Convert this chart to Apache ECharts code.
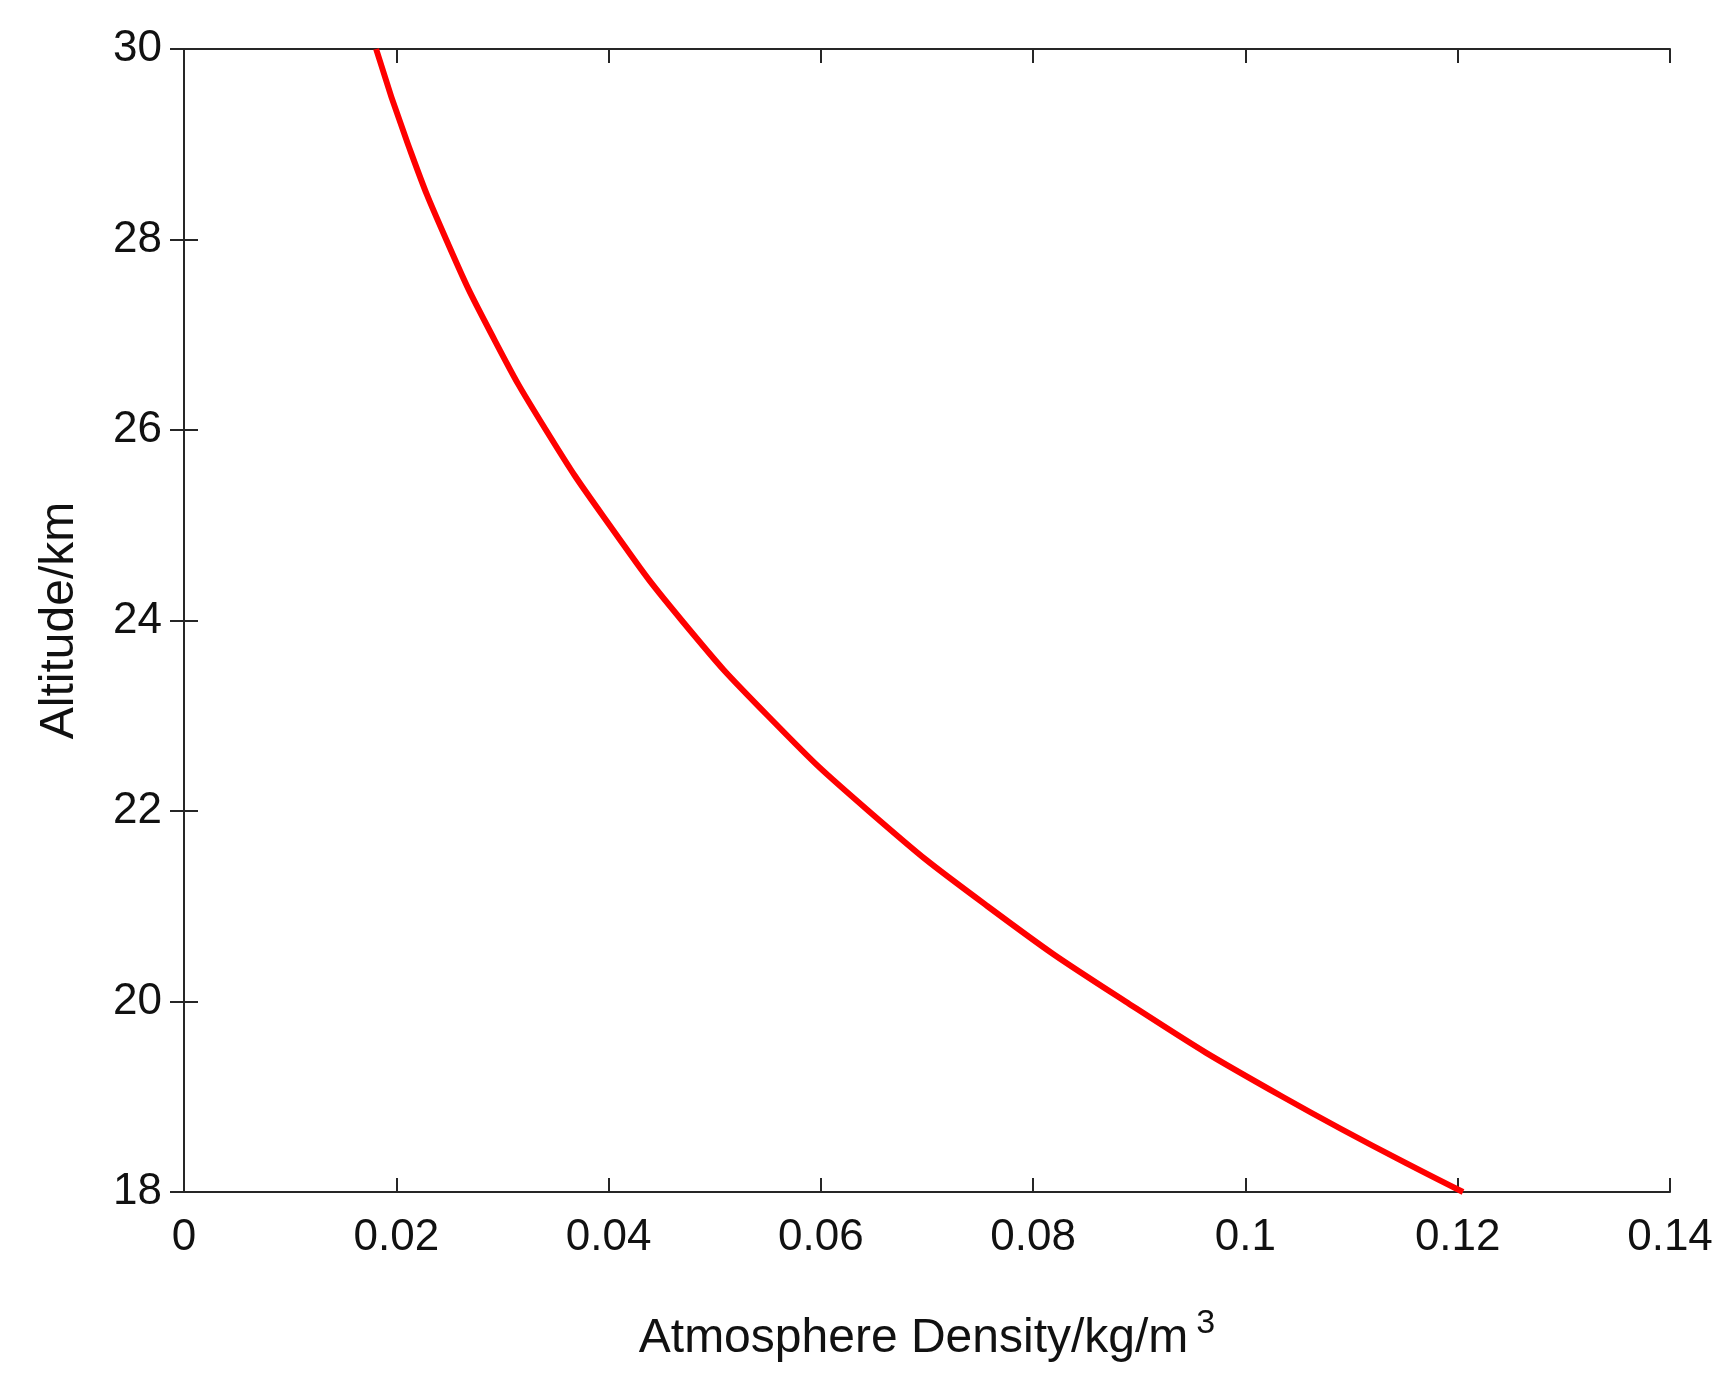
<!DOCTYPE html><html><head><meta charset="utf-8"><script src="https://cdn.jsdelivr.net/npm/echarts@6/dist/echarts.min.js"></script></head><body style="margin:0;background:#fff"><div id="c" style="width:1734px;height:1395px"></div><script>
const altitude=[18,19,20,21,22,23,24,25,26,27,28,29,30];
const density=[0.1205,0.1035,0.0887,0.0757,0.0645,0.0550,0.0469,0.0401,0.0341,0.0290,0.0247,0.0211,0.0181];
const xTicks=[0,0.02,0.04,0.06,0.08,0.1,0.12,0.14];
const yTicks=[18,20,22,24,26,28,30];
const F='Liberation Sans, Arial, sans-serif';
const lineS={lineStyle:{color:'#262626',width:2}};
const tick={show:true,inside:true,length:14,lineStyle:{color:'#262626',width:2}};
const lab={fontFamily:F,fontSize:44,color:'#111'};
const ch=echarts.init(document.getElementById('c'));
ch.setOption({
grid:{left:184,right:64,top:49,bottom:203},
xAxis:[{type:'value',min:0,max:0.14,interval:0.02,axisLine:lineS,axisTick:tick,splitLine:{show:false},
 axisLabel:{...lab,margin:24,formatter:v=>xTicks.includes(+v.toFixed(2))?String(+v.toFixed(2)):''},
 name:'Atmosphere Density/kg/m{s|3}',nameLocation:'middle',nameGap:115,
 nameTextStyle:{fontFamily:F,fontSize:48,color:'#111',rich:{s:{fontFamily:F,fontSize:34,color:'#111',verticalAlign:'top',padding:[0,0,30,8]}}}},
 {type:'value',position:'top',min:0,max:0.14,interval:0.02,axisLine:lineS,axisTick:tick,axisLabel:{show:false},splitLine:{show:false}}],
yAxis:[{type:'value',min:18,max:30,interval:2,axisLine:lineS,axisTick:tick,splitLine:{show:false},
 axisLabel:{...lab,margin:22},name:'Altitude/km',nameLocation:'middle',nameGap:100,nameTextStyle:{fontFamily:F,fontSize:48,color:'#111'}},
 {type:'value',position:'right',min:18,max:30,interval:2,axisLine:lineS,axisTick:tick,axisLabel:{show:false},splitLine:{show:false}}],
series:[{type:'line',smooth:true,symbol:'none',data:density.map((d,i)=>[d,altitude[i]]),lineStyle:{color:'#ff0000',width:6}}]
});
</script></body></html>
